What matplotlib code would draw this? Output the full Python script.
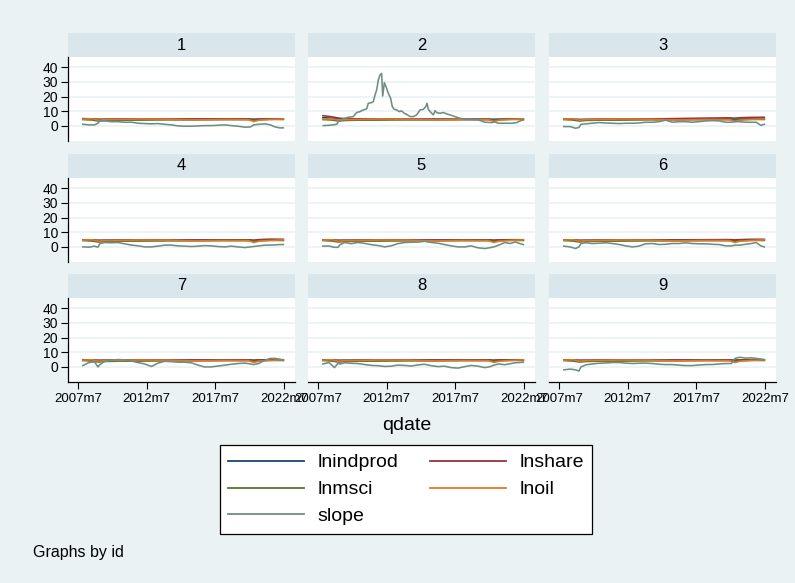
import numpy as np
import matplotlib.pyplot as plt
from matplotlib.lines import Line2D

plt.rcParams['font.family'] = ['Liberation Sans', 'DejaVu Sans']

# ---- data ----
ids = [1, 2, 3, 4, 5, 6, 7, 8, 9]

# slope, common date grid (panels other than 2)
slope_dates = [2007.85, 2008.3, 2008.7, 2008.95, 2009.1, 2009.45, 2009.9, 2010.4, 2010.9,
               2011.4, 2011.9, 2012.35, 2012.85, 2013.3, 2013.8, 2014.3, 2014.8, 2015.25,
               2015.75, 2016.25, 2016.7, 2017.2, 2017.7, 2018.2, 2018.65, 2019.15, 2019.65,
               2020.05, 2020.3, 2020.65, 2021.1, 2021.5, 2021.85, 2022.2, 2022.45]
slope1 = [1.1, 0.7, 0.7, 1.8, 3.6, 3.4, 2.9, 2.9, 2.5, 2.5, 1.8, 1.6, 1.4, 1.6, 1.1, 0.7, 0.0, -0.2,
          -0.2, 0.0, 0.2, 0.2, 0.45, 0.7, 0.2, -0.2, -0.9, -0.7, 0.7, 1.1, 1.4, 0.7, -0.7, -1.35, -1.35]
slope3 = [-0.45, -0.45, -1.6, -1.1, 1.1, 1.4, 1.8, 2.3, 2.0, 1.8, 1.6, 1.8, 1.8, 2.0, 2.5, 2.5, 2.9, 3.9,
          2.5, 2.9, 2.9, 2.5, 2.9, 3.4, 3.6, 3.4, 2.5, 2.5, 2.9, 2.9, 2.5, 2.5, 2.5, 0.4, 1.1]
slope4 = [0.0, -0.2, 0.5, -0.2, 2.3, 3.0, 2.8, 3.0, 2.1, 1.2, 0.7, 0.0, 0.0, 0.5, 1.2, 1.2, 0.7, 0.5,
          0.25, 0.5, 0.9, 0.7, 0.25, 0.0, 0.5, 0.0, -0.44, 0.0, 0.3, 0.7, 1.2, 1.2, 1.4, 1.6, 1.6]
slope5 = [0.5, 0.6, -0.3, -0.3, 1.5, 3.0, 2.2, 3.0, 2.4, 1.5, 0.9, 0.0, 0.8, 2.2, 3.0, 3.2, 3.3, 3.8,
          3.0, 2.5, 1.6, 0.7, 0.0, 0.0, 0.7, -0.6, -1.1, -0.5, 0.0, 1.2, 3.0, 2.3, 3.4, 2.3, 1.6]
slope6 = [0.5, 0.0, -1.1, 0.0, 2.3, 2.8, 2.3, 2.5, 2.8, 2.3, 1.6, 0.7, 0.0, 0.5, 2.1, 2.3, 1.6, 1.8,
          2.3, 2.3, 2.8, 2.3, 2.1, 2.1, 1.8, 1.6, 0.7, 0.7, 1.2, 1.2, 1.8, 2.3, 3.0, 0.7, 0.0]
slope7 = [0.9, 3.0, 3.5, 0.0, 1.6, 3.9, 4.5, 5.0, 4.8, 4.0, 2.9, 2.0, 0.3, 2.5, 3.8, 3.6, 3.2, 3.2,
          2.8, 1.2, 0.0, 0.0, 0.6, 1.2, 1.8, 2.3, 2.6, 2.0, 1.6, 2.3, 4.5, 5.8, 5.8, 5.2, 4.5]
slope8 = [2.0, 3.0, -0.5, 2.5, 2.0, 2.8, 2.5, 2.3, 1.6, 1.0, 0.8, 0.3, 0.5, 1.2, 1.0, 0.6, 1.4, 1.8,
          0.8, 0.2, 0.5, -0.5, -0.8, 0.2, 1.0, 0.5, -0.5, 0.2, 1.2, 2.0, 1.5, 2.2, 2.8, 3.0, 3.2]
slope9 = [-2.0, -1.5, -2.0, -2.8, 0.0, 1.4, 2.0, 2.5, 2.7, 3.0, 3.0, 2.6, 2.3, 2.5, 2.6, 2.3, 1.8, 1.6,
          1.6, 1.2, 0.9, 0.9, 1.3, 1.6, 1.6, 2.0, 2.3, 2.3, 5.7, 6.6, 6.0, 6.2, 5.8, 5.4, 5.0]

# panel 2 slope has its own, denser dates
slope2_dates = [2007.88, 2008.37, 2008.86, 2008.98, 2009.22, 2009.71, 2010.07, 2010.31, 2010.56,
                2010.80, 2011.04, 2011.16, 2011.41, 2011.53, 2011.65, 2011.77, 2011.89, 2012.01,
                2012.13, 2012.21, 2012.33, 2012.45, 2012.62, 2012.79, 2012.91, 2013.06, 2013.23,
                2013.42, 2013.59, 2013.78, 2013.95, 2014.20, 2014.44, 2014.68, 2014.80, 2014.93,
                2015.17, 2015.34, 2015.44, 2015.53, 2015.73, 2015.90, 2016.02, 2016.14, 2016.38,
                2016.63, 2016.87, 2017.11, 2017.47, 2017.84, 2018.20, 2018.69, 2019.17, 2019.66,
                2020.15, 2020.39, 2020.63, 2021.12, 2021.60, 2021.97, 2022.21, 2022.45]
slope2 = [0.2, 0.46, 1.1, 2.95, 4.5, 5.9, 6.35, 9.1, 9.75, 10.9, 11.6, 15.4, 15.9, 16.6, 21.1, 24.5,
          31.3, 34.7, 35.8, 20.4, 29.5, 26.8, 22.2, 18.8, 13.1, 11.3, 10.9, 9.75, 10.2, 8.6, 7.9,
          6.35, 6.35, 7.5, 9.1, 10.9, 11.3, 13.1, 15.4, 11.3, 9.1, 7.5, 10.4, 9.1, 8.6, 9.1, 8.2,
          7.5, 6.35, 5.2, 4.5, 4.5, 4.1, 2.5, 2.3, 2.7, 1.8, 1.8, 1.8, 2.3, 3.4, 4.1]

# the log-level series, coarser date grid
level_dates = [2007.85, 2008.5, 2009.0, 2009.5, 2010.5, 2012.0, 2014.0, 2016.0, 2018.0,
               2019.9, 2020.3, 2020.7, 2021.5, 2022.45]
lnmsci = [4.3, 4.0, 3.3, 3.7, 3.9, 3.95, 4.1, 4.1, 4.25, 4.25, 3.9, 4.25, 4.45, 4.35]
lnoil = [4.6, 4.9, 3.9, 4.3, 4.4, 4.7, 4.6, 4.1, 4.4, 4.3, 3.0, 3.9, 4.4, 4.8]
lnindprod = [
    [4.6, 4.6, 4.45, 4.5, 4.55, 4.6, 4.6, 4.62, 4.65, 4.63, 4.35, 4.6, 4.65, 4.66],
    [5.6, 5.3, 4.9, 4.7, 4.65, 4.6, 4.6, 4.6, 4.6, 4.6, 4.4, 4.55, 4.6, 4.6],
    [4.55, 4.55, 4.4, 4.45, 4.5, 4.55, 4.6, 4.65, 4.7, 4.7, 4.4, 4.65, 4.7, 4.7],
    [4.6, 4.6, 4.45, 4.5, 4.55, 4.6, 4.6, 4.62, 4.65, 4.63, 4.3, 4.6, 4.65, 4.66],
    [4.6, 4.6, 4.5, 4.5, 4.55, 4.6, 4.62, 4.62, 4.64, 4.63, 4.4, 4.6, 4.64, 4.65],
    [4.6, 4.6, 4.45, 4.5, 4.55, 4.6, 4.6, 4.62, 4.65, 4.63, 4.35, 4.6, 4.65, 4.66],
    [4.6, 4.6, 4.5, 4.5, 4.55, 4.6, 4.6, 4.6, 4.62, 4.62, 4.4, 4.6, 4.62, 4.63],
    [4.6, 4.6, 4.45, 4.5, 4.55, 4.6, 4.6, 4.62, 4.65, 4.63, 4.35, 4.6, 4.65, 4.66],
    [4.6, 4.6, 4.5, 4.5, 4.55, 4.6, 4.62, 4.62, 4.65, 4.65, 4.4, 4.6, 4.66, 4.66],
]
lnshare = [
    [5.0, 4.8, 4.4, 4.5, 4.6, 4.6, 4.6, 4.65, 4.7, 4.75, 4.5, 4.7, 4.8, 4.85],
    [7.0, 6.2, 5.3, 5.0, 4.7, 4.6, 4.5, 4.45, 4.45, 4.5, 4.4, 4.5, 4.55, 4.6],
    [4.8, 4.6, 4.2, 4.35, 4.5, 4.55, 4.75, 5.0, 5.3, 5.5, 5.3, 5.6, 5.8, 5.9],
    [4.8, 4.7, 4.4, 4.5, 4.6, 4.6, 4.65, 4.7, 4.8, 4.85, 4.6, 5.0, 5.3, 5.2],
    [4.8, 4.7, 4.4, 4.5, 4.6, 4.6, 4.65, 4.7, 4.75, 4.8, 4.6, 4.8, 4.9, 4.9],
    [4.8, 4.7, 4.4, 4.5, 4.6, 4.6, 4.7, 4.8, 4.9, 5.0, 4.8, 5.0, 5.2, 5.2],
    [4.9, 4.7, 4.4, 4.5, 4.6, 4.6, 4.65, 4.7, 4.75, 4.8, 4.6, 4.8, 4.9, 4.9],
    [4.8, 4.7, 4.4, 4.5, 4.6, 4.6, 4.65, 4.7, 4.75, 4.8, 4.6, 4.8, 4.85, 4.85],
    [4.8, 4.7, 4.4, 4.5, 4.6, 4.6, 4.65, 4.7, 4.75, 4.8, 4.6, 4.8, 4.9, 4.9],
]
slopes = [slope1, slope2, slope3, slope4, slope5, slope6, slope7, slope8, slope9]

xtick_pos = [2007.5, 2012.5, 2017.5, 2022.5]
xtick_lab = ['2007m7', '2012m7', '2017m7', '2022m7']
ytick_pos = [0, 10, 20, 30, 40]

# ---- style ----
bg = '#EAF2F3'
band = '#D9E6EB'
c_ind, c_share, c_msci, c_oil, c_slope = '#1A476F', '#90353B', '#55752F', '#E37728', '#6E8E84'
lw = 1.15

W, H = 795, 583
fig = plt.figure(figsize=(W / 100, H / 100), dpi=100, facecolor=bg)

col_x = [68, 308, 549]
pw = 227
row_y = [(33, 57, 141), (154, 178, 262), (274, 298, 382)]

for i, pid in enumerate(ids):
    r, c = divmod(i, 3)
    top, ptop, pbot = row_y[r]
    x0 = col_x[c]

    hax = fig.add_axes([x0 / W, 1 - ptop / H, pw / W, (ptop - top) / H])
    hax.set_facecolor(band)
    hax.set_xticks([]); hax.set_yticks([])
    for s in hax.spines.values():
        s.set_visible(False)
    hax.text(0.5, 0.5, str(pid), ha='center', va='center', fontsize=12)

    ax = fig.add_axes([x0 / W, 1 - pbot / H, pw / W, (pbot - ptop) / H])
    ax.set_facecolor('white')
    ax.plot(level_dates, lnindprod[i], color=c_ind, lw=lw)
    ax.plot(level_dates, lnshare[i], color=c_share, lw=lw)
    ax.plot(level_dates, lnmsci, color=c_msci, lw=lw)
    ax.plot(level_dates, lnoil, color=c_oil, lw=lw)
    if pid == 2:
        ax.plot(slope2_dates, slope2, color=c_slope, lw=lw)
    else:
        ax.plot(slope_dates, slopes[i], color=c_slope, lw=lw)

    ax.set_xlim(2006.77, 2023.3)
    ax.set_ylim(-10.3, 47)
    ax.set_yticks(ytick_pos)
    ax.set_xticks(xtick_pos)
    ax.set_xticklabels(xtick_lab)
    ax.grid(axis='y', color=bg, lw=1.2)
    ax.set_axisbelow(True)
    for s in ax.spines.values():
        s.set_visible(False)
    ax.tick_params(axis='y', direction='out', length=5, width=0.8, pad=2, labelsize=10)
    ax.tick_params(axis='x', direction='out', length=5, width=0.8, pad=3, labelsize=9.5)
    if c == 0:
        ax.spines['left'].set_visible(True)
        ax.spines['left'].set_linewidth(0.9)
    else:
        ax.tick_params(axis='y', left=False, labelleft=False)
    if r == 2:
        ax.spines['bottom'].set_visible(True)
        ax.spines['bottom'].set_linewidth(0.9)
    else:
        ax.tick_params(axis='x', bottom=False, labelbottom=False)

fig.text(407 / W, 1 - 425 / H, 'qdate', ha='center', va='center', fontsize=14)

handles = [Line2D([], [], color=c_ind, lw=1.3), Line2D([], [], color=c_msci, lw=1.3),
           Line2D([], [], color=c_slope, lw=1.3), Line2D([], [], color=c_share, lw=1.3),
           Line2D([], [], color=c_oil, lw=1.3)]
labels = ['lnindprod', 'lnmsci', 'slope', 'lnshare', 'lnoil']
leg = fig.legend(handles, labels, ncol=2, loc='center',
                 bbox_to_anchor=(406 / W, 1 - 489.5 / H), fontsize=14,
                 frameon=True, fancybox=False, edgecolor='black', facecolor='white',
                 framealpha=1, handlelength=3.9, handletextpad=0.7, columnspacing=1.6,
                 labelspacing=0.48, borderpad=0.45)
leg.get_frame().set_linewidth(0.9)

fig.text(33 / W, 1 - 553 / H, 'Graphs by id', ha='left', va='center', fontsize=11.5)

fig.savefig('out.png', dpi=100, facecolor=bg)
